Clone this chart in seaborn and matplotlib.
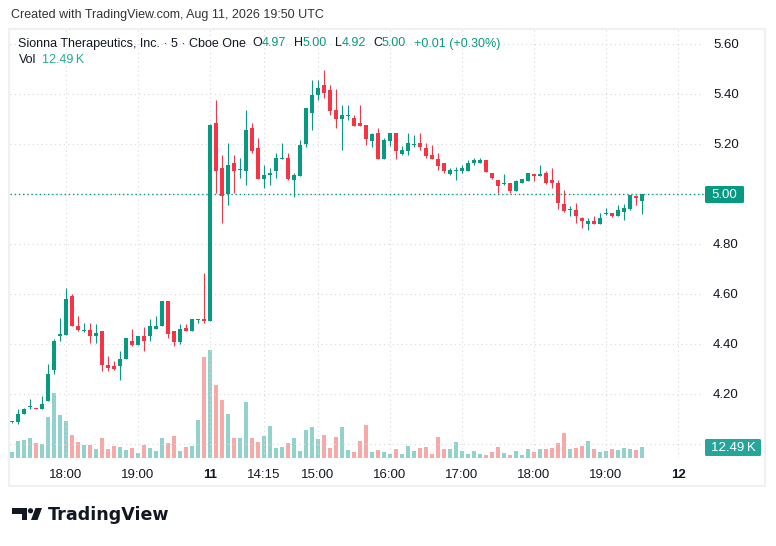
import numpy as np
import pandas as pd
import matplotlib
matplotlib.use("Agg")
import matplotlib.pyplot as plt
import seaborn as sns
from matplotlib.patches import Rectangle, Polygon, Circle, FancyBboxPatch

# --- data (5 min bars, Cboe One) ---
opens = [4.088, 4.087, 4.119, 4.148, 4.142, 4.139, 4.171, 4.297, 4.431, 4.437,
         4.593, 4.473, 4.452, 4.457, 4.431, 4.453, 4.317, 4.313, 4.311, 4.339,
         4.413, 4.396, 4.433, 4.431, 4.459, 4.471, 4.573, 4.453, 4.409, 4.463,
         4.451, 4.497, 4.500, 4.493, 5.285, 5.104, 5.000, 5.124, 5.095, 5.093,
         5.264, 5.184, 5.061, 5.076, 5.093, 5.141, 5.143, 5.054, 5.073, 5.199,
         5.323, 5.396, 5.436, 5.416, 5.336, 5.300, 5.311, 5.303, 5.285, 5.275,
         5.213, 5.243, 5.140, 5.213, 5.243, 5.160, 5.173, 5.195, 5.203, 5.183,
         5.156, 5.139, 5.123, 5.080, 5.091, 5.092, 5.093, 5.123, 5.123, 5.136,
         5.085, 5.056, 5.041, 5.043, 5.013, 5.043, 5.053, 5.080, 5.073, 5.083,
         5.056, 5.043, 4.960, 4.935, 4.936, 4.904, 4.880, 4.893, 4.880, 4.921,
         4.923, 4.913, 4.929, 4.939, 4.992, 4.970]
highs = [4.092, 4.140, 4.142, 4.180, 4.143, 4.193, 4.320, 4.420, 4.503, 4.624,
         4.600, 4.513, 4.483, 4.483, 4.480, 4.453, 4.353, 4.333, 4.373, 4.423,
         4.460, 4.433, 4.467, 4.500, 4.513, 4.573, 4.573, 4.453, 4.480, 4.480,
         4.500, 4.500, 4.683, 5.280, 5.376, 5.156, 5.203, 5.156, 5.143, 5.336,
         5.283, 5.223, 5.116, 5.103, 5.163, 5.203, 5.163, 5.083, 5.216, 5.343,
         5.456, 5.456, 5.496, 5.436, 5.419, 5.356, 5.356, 5.316, 5.356, 5.275,
         5.245, 5.263, 5.223, 5.243, 5.243, 5.192, 5.245, 5.236, 5.245, 5.203,
         5.196, 5.163, 5.123, 5.103, 5.109, 5.116, 5.136, 5.145, 5.143, 5.136,
         5.085, 5.056, 5.080, 5.043, 5.056, 5.059, 5.085, 5.080, 5.116, 5.092,
         5.103, 5.056, 5.016, 4.952, 4.963, 4.909, 4.903, 4.912, 4.923, 4.943,
         4.923, 4.956, 4.960, 4.996, 4.996, 5.000]
lows = [4.083, 4.080, 4.118, 4.140, 4.139, 4.139, 4.171, 4.280, 4.413, 4.437,
        4.471, 4.453, 4.447, 4.403, 4.403, 4.293, 4.291, 4.297, 4.256, 4.339,
        4.393, 4.396, 4.373, 4.413, 4.459, 4.471, 4.424, 4.393, 4.400, 4.451,
        4.451, 4.483, 4.483, 4.490, 5.005, 4.885, 4.956, 5.003, 5.063, 5.036,
        5.163, 5.061, 5.025, 5.036, 5.063, 5.139, 5.056, 4.987, 5.073, 5.187,
        5.256, 5.376, 5.383, 5.316, 5.263, 5.176, 5.296, 5.273, 5.273, 5.196,
        5.187, 5.141, 5.140, 5.192, 5.140, 5.156, 5.156, 5.189, 5.176, 5.145,
        5.140, 5.096, 5.085, 5.076, 5.056, 5.085, 5.093, 5.116, 5.123, 5.089,
        5.059, 5.003, 5.036, 5.005, 5.013, 5.043, 5.053, 5.052, 5.073, 5.039,
        5.025, 4.939, 4.929, 4.913, 4.885, 4.865, 4.856, 4.880, 4.880, 4.916,
        4.907, 4.913, 4.896, 4.936, 4.956, 4.920]
closes = [4.089, 4.120, 4.141, 4.150, 4.140, 4.161, 4.281, 4.413, 4.441, 4.581,
          4.471, 4.457, 4.454, 4.431, 4.443, 4.315, 4.304, 4.299, 4.340, 4.423,
          4.397, 4.433, 4.411, 4.473, 4.473, 4.573, 4.440, 4.409, 4.460, 4.451,
          4.500, 4.500, 4.493, 5.276, 5.093, 4.993, 5.116, 5.093, 5.097, 5.256,
          5.173, 5.061, 5.076, 5.084, 5.143, 5.143, 5.061, 5.076, 5.195, 5.343,
          5.396, 5.423, 5.403, 5.333, 5.301, 5.316, 5.312, 5.273, 5.273, 5.220,
          5.240, 5.141, 5.216, 5.243, 5.173, 5.176, 5.203, 5.197, 5.189, 5.153,
          5.140, 5.113, 5.093, 5.096, 5.092, 5.103, 5.123, 5.136, 5.136, 5.089,
          5.063, 5.033, 5.043, 5.013, 5.052, 5.059, 5.083, 5.073, 5.080, 5.043,
          5.043, 4.963, 4.933, 4.937, 4.912, 4.893, 4.893, 4.880, 4.903, 4.923,
          4.913, 4.936, 4.943, 4.996, 4.985, 5.000]
volumes_k = [7.4, 19.9, 21.4, 23.8, 17.2, 16.7, 48.3, 76.4, 50.7, 43.6,
             27.3, 19.1, 15.6, 15.6, 10.9, 23.8, 10.9, 14.4, 13.2, 9.7,
             12.1, 6.2, 15.6, 12.1, 8.5, 23.8, 17.9, 26.1, 8.5, 13.2,
             14.4, 44.5, 118.2, 126.4, 85.4, 67.9, 51.5, 23.0, 23.0, 65.2,
             23.0, 18.4, 25.4, 37.1, 11.3, 12.5, 17.2, 23.0, 7.8, 32.4,
             35.9, 21.9, 26.6, 11.3, 24.2, 35.9, 9.0, 6.7, 19.5, 38.3,
             7.0, 9.0, 7.0, 5.0, 10.2, 4.3, 13.7, 8.2, 11.3, 12.5,
             4.3, 24.2, 10.2, 10.2, 18.4, 7.8, 4.3, 7.8, 4.3, 3.2,
             6.7, 12.5, 5.5, 3.2, 7.8, 3.2, 10.2, 6.7, 10.2, 10.2,
             11.3, 17.2, 28.9, 10.2, 11.3, 13.7, 19.5, 10.2, 6.7, 7.8,
             10.2, 9.0, 11.3, 10.2, 9.0, 12.49]

price_ticks = [4.00, 4.20, 4.40, 4.60, 4.80, 5.00, 5.20, 5.40, 5.60]
time_ticks = [("2026-08-10 18:00", "18:00"), ("2026-08-10 19:00", "19:00"),
              ("2026-08-11 13:30", "11"), ("2026-08-11 14:15", "14:15"),
              ("2026-08-11 15:00", "15:00"), ("2026-08-11 16:00", "16:00"),
              ("2026-08-11 17:00", "17:00"), ("2026-08-11 18:00", "18:00"),
              ("2026-08-11 19:00", "19:00")]
next_day_label = "12"
last_price = 5.00

UP = "#089981"
DOWN = "#F23645"
UP_VOL = "#92d2cc"
DOWN_VOL = "#f7a9a7"
TXT = "#131722"
GRID = "#d6d8de"

# bar timestamps: session bars are evenly spaced on the x axis
day10 = pd.date_range("2026-08-10 17:15", "2026-08-10 19:55", freq="5min")
day11 = pd.date_range("2026-08-11 13:30", periods=len(closes) - len(day10), freq="5min")
times = day10.append(day11)

df = pd.DataFrame({"open": opens, "high": highs, "low": lows, "close": closes,
                   "vol": volumes_k}, index=times)
df["pos"] = np.arange(len(df))
df["up"] = df["close"] >= df["open"]
df["dir"] = np.where(df["up"], "up", "down")

tick_pos = [df.index.get_loc(pd.Timestamp(t)) for t, _ in time_ticks]
tick_lab = [lab for _, lab in time_ticks]
# next session starts 78 bars (6.5 h) after the day-11 open
tick_pos.append(df.index.get_loc(pd.Timestamp("2026-08-11 13:30")) + 78)
tick_lab.append(next_day_label)

sns.set_theme(style="white")
plt.rcParams['font.family'] = ['Liberation Sans', 'DejaVu Sans']

W, H = 776, 546
fig = plt.figure(figsize=(W / 100, H / 100), dpi=100)
fig.patch.set_facecolor("white")

# pane in pixels: x 10..704, y 30..458
px_l, px_r, px_t, px_b = 10, 704, 30, 458
ax = fig.add_axes([px_l / W, (H - px_b) / H, (px_r - px_l) / W, (px_b - px_t) / H])
ax_v = ax.twinx()

# volume underneath the candles
sns.barplot(data=df, x="pos", y="vol", hue="dir", palette={"up": UP_VOL, "down": DOWN_VOL},
            native_scale=True, dodge=False, width=0.8, saturation=1, legend=False,
            linewidth=0, ax=ax_v)
ax_v.set_ylim(0, 500)
ax_v.set_axis_off()
ax.set_zorder(ax_v.get_zorder() + 1)
ax.patch.set_visible(False)

# grid
for p in price_ticks:
    ax.axhline(p, color=GRID, lw=0.8, ls=(0, (1, 3)), zorder=0)
for t in tick_pos:
    ax.axvline(t, color=GRID, lw=0.8, ls=(0, (1, 3)), zorder=0)

# candles
colors = np.where(df["up"], UP, DOWN)
ax.vlines(df["pos"], df["low"], df["high"], colors=colors, lw=0.8, zorder=2)
body_lo = np.minimum(df["open"], df["close"])
body_h = np.maximum((df["close"] - df["open"]).abs(), 0.004)
ax.bar(df["pos"], body_h, bottom=body_lo, width=0.8, color=colors, linewidth=0, zorder=3)

# last price line
ax.axhline(last_price, color=UP, lw=1.0, ls=(0, (1, 2)), zorder=4)

ax.set_xlim((px_l - 12) / 6, (px_r - 12) / 6)
ax.set_ylim(5.0 - (px_b - 194) / 250, 5.0 + (194 - px_t) / 250)
ax_v.set_xlim(ax.get_xlim())

ax.yaxis.tick_right()
ax.set_yticks(price_ticks)
ax.set_yticklabels([f"{p:.2f}" for p in price_ticks])
ax.set_xticks(tick_pos)
ax.set_xticklabels(tick_lab)
ax.tick_params(axis="y", length=0, pad=6.5, labelsize=9.5, labelcolor=TXT)
ax.tick_params(axis="x", length=0, pad=8, labelsize=9.5, labelcolor=TXT)
for lab in ax.get_xticklabels():
    if lab.get_text() in ("11", "12"):
        lab.set_fontweight("bold")
ax.set_xlabel("")
ax.set_ylabel("")
for s in ax.spines.values():
    s.set_visible(False)

# overlay in pixel coordinates for header, labels and logo
ov = fig.add_axes([0, 0, 1, 1], zorder=10)
ov.set_xlim(0, W)
ov.set_ylim(H, 0)
ov.set_axis_off()
ov.patch.set_visible(False)

ov.add_patch(Rectangle((9, 29), 756, 457, fill=False, ec="#eef0f4", lw=1.5))
ov.text(11, 15, "Created with TradingView.com, Aug 11, 2026 19:50 UTC", fontsize=9,
        color="#333333", va="center", ha="left")

header = [("Sionna Therapeutics, Inc. · 5 · Cboe One", 18.5, TXT),
          ("O", 252.5, TXT), ("4.97", 261.5, UP),
          ("H", 294, TXT), ("5.00", 303, UP),
          ("L", 335, TXT), ("4.92", 341.5, UP),
          ("C", 373, TXT), ("5.00", 381.5, UP),
          ("+0.01 (+0.30%)", 414, UP)]
for txt, x, c in header:
    ov.text(x, 43.5, txt, fontsize=9, color=c, va="center", ha="left")
ov.text(18.5, 60, "Vol", fontsize=9, color=TXT, va="center", ha="left")
ov.text(42.5, 60, "12.49\u2009K", fontsize=9, color="#22ab94", va="center", ha="left")

# price scale badges
ov.add_patch(FancyBboxPatch((705, 186), 39, 17, boxstyle="round,pad=0,rounding_size=1.5",
                            fc=UP, ec="none"))
ov.text(724.5, 194.8, "5.00", fontsize=9.5, color="white", ha="center", va="center")
ov.add_patch(FancyBboxPatch((705, 439), 56, 17, boxstyle="round,pad=0,rounding_size=1.5",
                            fc="#26a69a", ec="none"))
ov.text(733, 447.8, "12.49\u2009K", fontsize=9.5, color="white", ha="center", va="center")

# TradingView logo
ov.add_patch(Polygon([(12, 508), (27, 508), (27, 520), (21.5, 520), (21.5, 513.5), (12, 513.5)],
                     closed=True, fc="#131722", ec="none"))
ov.add_patch(Circle((30.5, 510.8), 2.6, fc="#131722", ec="none"))
ov.add_patch(Polygon([(35.5, 508), (42, 508), (37.5, 520), (31, 520)], closed=True,
                     fc="#131722", ec="none"))
ov.text(47.5, 515, "TradingView", fontsize=12.6, fontweight="bold", color="#131722",
        va="center", ha="left", family="DejaVu Sans")

fig.savefig("out.png", dpi=100)
